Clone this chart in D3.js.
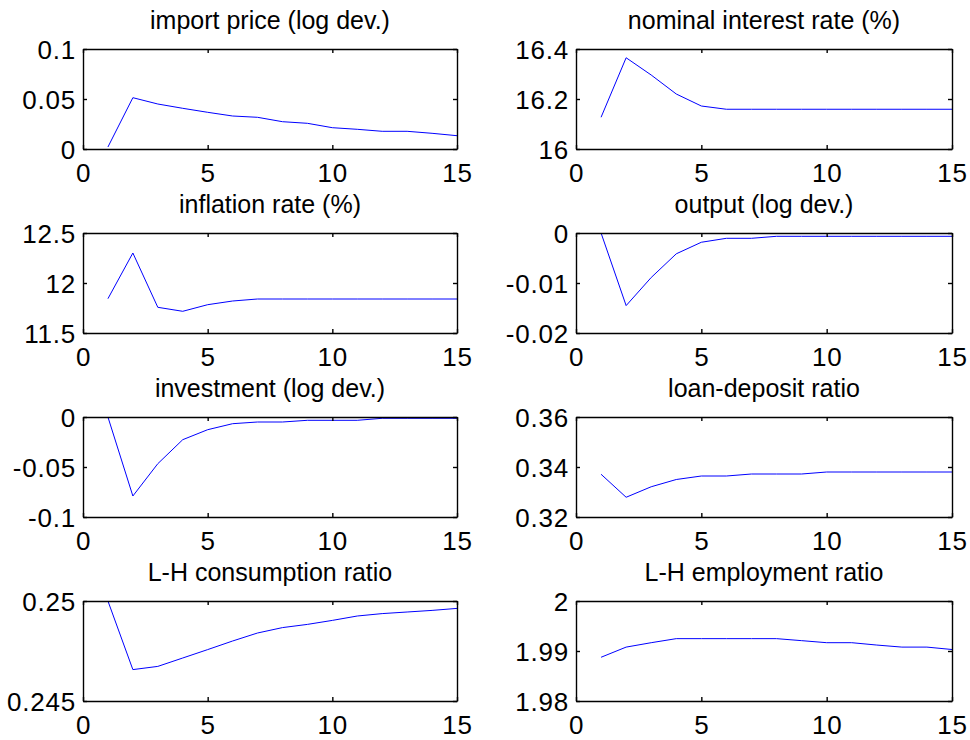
<!DOCTYPE html>
<html>
<head>
<meta charset="utf-8">
<script src="https://cdn.jsdelivr.net/npm/d3@7"></script>
<style>
  html, body { margin: 0; padding: 0; background: #fff; }
  svg { display: block; }
  text { font-family: "Liberation Sans", Arial, sans-serif; fill: #000; }
</style>
</head>
<body>
<svg id="chart" width="970" height="740"></svg>
<script>
// ---- data ----
const periods = [1,2,3,4,5,6,7,8,9,10,11,12,13,14,15];
const xTicks = [0, 5, 10, 15];

const titles = [
  "import price (log dev.)", "nominal interest rate (%)",
  "inflation rate (%)", "output (log dev.)",
  "investment (log dev.)", "loan-deposit ratio",
  "L-H consumption ratio", "L-H employment ratio"
];

const importPrice  = [0.002, 0.0513, 0.045, 0.0407, 0.0367, 0.033, 0.0317, 0.0273, 0.0257, 0.0213, 0.0197, 0.0177, 0.0177, 0.0157, 0.0133];
const nominalRate  = [16.127, 16.365, 16.296, 16.22, 16.172, 16.159, 16.159, 16.159, 16.159, 16.159, 16.159, 16.159, 16.159, 16.159, 16.159];
const inflation    = [11.843, 12.30, 11.757, 11.717, 11.783, 11.82, 11.84, 11.84, 11.84, 11.84, 11.84, 11.84, 11.84, 11.84, 11.84];
const outputDev    = [0, -0.01452, -0.0089, -0.00416, -0.00185, -0.00106, -0.00106, -0.00066, -0.00066, -0.00066, -0.00066, -0.00066, -0.00066, -0.00066, -0.00066];
const investment   = [0, -0.079, -0.0467, -0.0227, -0.0127, -0.0067, -0.005, -0.005, -0.0033, -0.0033, -0.0033, -0.0013, -0.0013, -0.0013, -0.0013];
const loanDeposit  = [0.3371, 0.3279, 0.3321, 0.335, 0.3364, 0.3364, 0.3372, 0.3372, 0.3372, 0.338, 0.338, 0.338, 0.338, 0.338, 0.338];
const lhConsump    = [0.25, 0.24657, 0.24673, 0.24715, 0.24757, 0.248, 0.2484, 0.24867, 0.24883, 0.24903, 0.24925, 0.24937, 0.24945, 0.24953, 0.24963];
const lhEmploy     = [1.98875, 1.99078, 1.99166, 1.99247, 1.99247, 1.99247, 1.99247, 1.99247, 1.99207, 1.99166, 1.99166, 1.99119, 1.99078, 1.99078, 1.9903];

const seriesList = [importPrice, nominalRate, inflation, outputDev, investment, loanDeposit, lhConsump, lhEmploy];

const yDomains = [[0, 0.1], [16, 16.4], [11.5, 12.5], [-0.02, 0], [-0.1, 0], [0.32, 0.36], [0.245, 0.25], [1.98, 2]];
const yTicks = [
  [0, 0.05, 0.1], [16, 16.2, 16.4], [11.5, 12, 12.5], [-0.02, -0.01, 0],
  [-0.1, -0.05, 0], [0.32, 0.34, 0.36], [0.245, 0.25], [1.98, 1.99, 2]
];
const yTickLabels = [
  ["0", "0.05", "0.1"], ["16", "16.2", "16.4"], ["11.5", "12", "12.5"], ["-0.02", "-0.01", "0"],
  ["-0.1", "-0.05", "0"], ["0.32", "0.34", "0.36"], ["0.245", "0.25"], ["1.98", "1.99", "2"]
];

// ---- layout ----
const colLeft = [83, 576];
const plotW = [374, 376];
const rowTop = [49, 233, 417, 601];
const plotH = 100;
const tickLen = 4;
const tickFont = 26;
const titleFont = 25;

const svg = d3.select("#chart");

seriesList.forEach((vals, i) => {
  const col = i % 2, row = Math.floor(i / 2);
  const w = plotW[col];
  const g = svg.append("g").attr("transform", `translate(${colLeft[col]},${rowTop[row]})`);

  const x = d3.scaleLinear().domain([0, 15]).range([0, w]);
  const y = d3.scaleLinear().domain(yDomains[i]).range([plotH, 0]);

  // line
  const line = d3.line().x((d, k) => x(periods[k])).y(d => y(d));
  g.append("path").datum(vals)
    .attr("d", line)
    .attr("fill", "none")
    .attr("stroke", "#0000ff")
    .attr("stroke-width", 1);

  // axes (MATLAB box style, inward ticks)
  const axStyle = sel => {
    sel.select(".domain").attr("stroke", "#000").attr("stroke-width", 1.4);
    sel.selectAll(".tick line").attr("stroke", "#000").attr("stroke-width", 1.4);
    sel.selectAll("text").style("font-size", tickFont + "px")
      .style("font-family", '"Liberation Sans", Arial, sans-serif')
      .style("letter-spacing", "0.8px")
      .attr("fill", "#000");
  };

  const xb = g.append("g").attr("transform", `translate(0,${plotH})`)
    .call(d3.axisBottom(x).tickValues(xTicks).tickFormat(d3.format("d"))
      .tickSizeInner(-tickLen).tickSizeOuter(0).tickPadding(0));
  axStyle(xb);
  xb.selectAll("text").attr("y", 0).attr("dy", null).attr("dominant-baseline", "alphabetic")
    .attr("transform", "translate(0,33)");

  const xt = g.append("g")
    .call(d3.axisTop(x).tickValues(xTicks).tickFormat("").tickSizeInner(-tickLen).tickSizeOuter(0));
  axStyle(xt);

  const labels = yTickLabels[i];
  const yl = g.append("g")
    .call(d3.axisLeft(y).tickValues(yTicks[i]).tickFormat((d, k) => labels[k])
      .tickSizeInner(-tickLen).tickSizeOuter(0).tickPadding(8));
  axStyle(yl);
  yl.selectAll("text").attr("x", -7).attr("dy", "0.36em");

  const yr = g.append("g").attr("transform", `translate(${w},0)`)
    .call(d3.axisRight(y).tickValues(yTicks[i]).tickFormat("").tickSizeInner(-tickLen).tickSizeOuter(0));
  axStyle(yr);

  // title
  g.append("text")
    .attr("x", w / 2).attr("y", -20)
    .attr("text-anchor", "middle")
    .style("font-size", titleFont + "px")
    .text(titles[i]);
});
</script>
</body>
</html>
